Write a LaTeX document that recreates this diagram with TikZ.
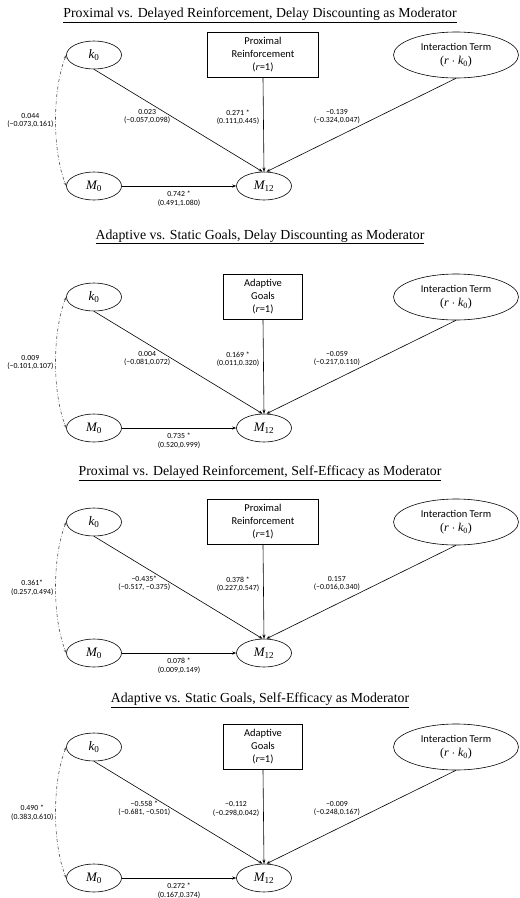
\documentclass[tikz,border=0pt]{standalone}
\usepackage{fontspec}
\setmainfont{Liberation Serif}
\newfontfamily\estfont{Carlito}
\newcommand\mvar[2]{{\rmfamily\itshape #1}\textsubscript{\rmfamily #2}}
\usetikzlibrary{arrows.meta, shapes.geometric}

\begin{document}
\begin{tikzpicture}[x=1pt, y=-1pt, line width=0.6pt,
  every node/.style={font=\estfont\fontsize{10.5}{13}\selectfont, inner sep=0pt, text=black},
  latent/.style={draw, ellipse, minimum width=55pt, minimum height=28pt, font=\rmfamily\fontsize{13}{15}\selectfont},
  interbox/.style={draw, ellipse, minimum width=125pt, minimum height=46pt, align=center},
  treatbox/.style={draw, minimum height=45pt, align=center},
  paneltitle/.style={font=\rmfamily\fontsize{13.8}{16}\selectfont},
  est/.style={font=\estfont\fontsize{7.8}{8.6}\selectfont, align=center, inner sep=1pt},
  effect/.style={-{Stealth[length=4pt, width=3pt]}},
  cov/.style={{Stealth[length=3.5pt, width=2.5pt]}-{Stealth[length=3.5pt, width=2.5pt]}, dash dot, black!70}]
  \useasboundingbox (0,0) rectangle (520,898);

  % panel 1
  \begin{scope}
    \node[paneltitle] (titleA) at (260,15) {\underline{Proximal vs. Delayed Reinforcement, Delay Discounting as Moderator}};
    \node[latent] (kA) at (94,55) {\mvar{k}{0}};
    \node[treatbox, minimum width=111pt] (rA) at (263,55) {Proximal\\Reinforcement\\({\rmfamily\itshape r}=1)};
    \node[interbox] (rkA) at (456,55) {Interaction Term\\[1pt]{\rmfamily\fontsize{12}{14}\selectfont(\emph{r} $\cdot$ \mvar{k}{0})}};
    \node[latent] (mA) at (94,186) {\mvar{M}{0}};
    \node[latent] (mtA) at (264,186) {\mvar{M}{12}};
    \draw[cov] (kA.west) .. controls +(-14,35) and +(-14,-35) .. node[est, pos=0.5, anchor=east, xshift=-1pt]{0.044\\(−0.073,0.161)} (mA.west);
    \draw[effect] (kA.south) -- node[est, pos=0.46, anchor=east]{0.023\\(−0.057,0.098)} ([xshift=-1.5pt]mtA.north);
    \draw[effect] (rA.south) -- node[est, pos=0.42, anchor=east, xshift=-3pt]{0.271 *\\(0.111,0.445)} (mtA.north);
    \draw[effect] (rkA.south) -- node[est, pos=0.5, anchor=south east]{−0.139\\(−0.324,0.047)} ([xshift=2.5pt]mtA.north);
    \draw[effect] (mA) -- node[est, midway, below=4pt]{0.742 *\\(0.491,1.080)} (mtA);
  \end{scope}

  % panel 2
  \begin{scope}[shift={(0,242)}]
    \node[paneltitle] (titleB) at (260,-5) {\underline{Adaptive vs. Static Goals, Delay Discounting as Moderator}};
    \node[latent] (kB) at (94,55) {\mvar{k}{0}};
    \node[treatbox, minimum width=79pt] (rB) at (263,55) {Adaptive\\Goals\\({\rmfamily\itshape r}=1)};
    \node[interbox] (rkB) at (456,55) {Interaction Term\\[1pt]{\rmfamily\fontsize{12}{14}\selectfont(\emph{r} $\cdot$ \mvar{k}{0})}};
    \node[latent] (mB) at (94,186) {\mvar{M}{0}};
    \node[latent] (mtB) at (264,186) {\mvar{M}{12}};
    \draw[cov] (kB.west) .. controls +(-14,35) and +(-14,-35) .. node[est, pos=0.5, anchor=east, xshift=-1pt]{0.009\\(−0.101,0.107)} (mB.west);
    \draw[effect] (kB.south) -- node[est, pos=0.46, anchor=east]{0.004\\(−0.081,0.072)} ([xshift=-1.5pt]mtB.north);
    \draw[effect] (rB.south) -- node[est, pos=0.42, anchor=east, xshift=-3pt]{0.169 *\\(0.011,0.320)} (mtB.north);
    \draw[effect] (rkB.south) -- node[est, pos=0.5, anchor=south east]{−0.059\\(−0.217,0.110)} ([xshift=2.5pt]mtB.north);
    \draw[effect] (mB) -- node[est, midway, below=4pt]{0.735 *\\(0.520,0.999)} (mtB);
  \end{scope}

  % panel 3
  \begin{scope}[shift={(0,467)}]
    \node[paneltitle] (titleC) at (260,6) {\underline{Proximal vs. Delayed Reinforcement, Self-Efficacy as Moderator}};
    \node[latent] (kC) at (94,55) {\mvar{k}{0}};
    \node[treatbox, minimum width=111pt] (rC) at (263,55) {Proximal\\Reinforcement\\({\rmfamily\itshape r}=1)};
    \node[interbox] (rkC) at (456,55) {Interaction Term\\[1pt]{\rmfamily\fontsize{12}{14}\selectfont(\emph{r} $\cdot$ \mvar{k}{0})}};
    \node[latent] (mC) at (94,186) {\mvar{M}{0}};
    \node[latent] (mtC) at (264,186) {\mvar{M}{12}};
    \draw[cov] (kC.west) .. controls +(-14,35) and +(-14,-35) .. node[est, pos=0.5, anchor=east, xshift=-1pt]{0.361*\\(0.257,0.494)} (mC.west);
    \draw[effect] (kC.south) -- node[est, pos=0.46, anchor=east]{−0.435*\\(−0.517, −0.375)} ([xshift=-1.5pt]mtC.north);
    \draw[effect] (rC.south) -- node[est, pos=0.42, anchor=east, xshift=-3pt]{0.378 *\\(0.227,0.547)} (mtC.north);
    \draw[effect] (rkC.south) -- node[est, pos=0.5, anchor=south east]{0.157\\(−0.016,0.340)} ([xshift=2.5pt]mtC.north);
    \draw[effect] (mC) -- node[est, midway, below=4pt]{0.078 *\\(0.009,0.149)} (mtC);
  \end{scope}

  % panel 4
  \begin{scope}[shift={(0,692)}]
    \node[paneltitle] (titleD) at (260,8) {\underline{Adaptive vs. Static Goals, Self-Efficacy as Moderator}};
    \node[latent] (kD) at (94,55) {\mvar{k}{0}};
    \node[treatbox, minimum width=79pt] (rD) at (263,55) {Adaptive\\Goals\\({\rmfamily\itshape r}=1)};
    \node[interbox] (rkD) at (456,55) {Interaction Term\\[1pt]{\rmfamily\fontsize{12}{14}\selectfont(\emph{r} $\cdot$ \mvar{k}{0})}};
    \node[latent] (mD) at (94,186) {\mvar{M}{0}};
    \node[latent] (mtD) at (264,186) {\mvar{M}{12}};
    \draw[cov] (kD.west) .. controls +(-14,35) and +(-14,-35) .. node[est, pos=0.5, anchor=east, xshift=-1pt]{0.490 *\\(0.383,0.610)} (mD.west);
    \draw[effect] (kD.south) -- node[est, pos=0.46, anchor=east]{−0.558 *\\(−0.681, −0.501)} ([xshift=-1.5pt]mtD.north);
    \draw[effect] (rD.south) -- node[est, pos=0.42, anchor=east, xshift=-3pt]{−0.112\\(−0.298,0.042)} (mtD.north);
    \draw[effect] (rkD.south) -- node[est, pos=0.5, anchor=south east]{−0.009\\(−0.248,0.167)} ([xshift=2.5pt]mtD.north);
    \draw[effect] (mD) -- node[est, midway, below=4pt]{0.272 *\\(0.167,0.374)} (mtD);
  \end{scope}
\end{tikzpicture}
\end{document}
